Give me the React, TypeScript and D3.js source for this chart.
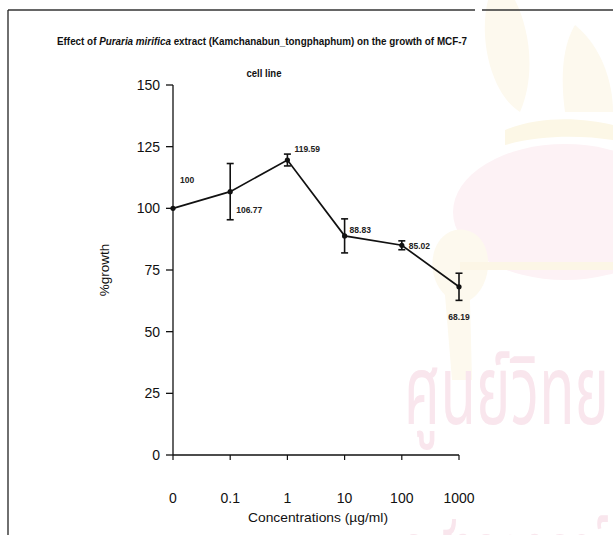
import React from "react";
import * as d3 from "d3";

// Concentrations tested (µg/ml) and mean % growth of MCF-7 cells
const concentrations = ["0", "0.1", "1", "10", "100", "1000"];
const growth = [100, 106.77, 119.59, 88.83, 85.02, 68.19];
const growthError = [0, 11.4, 2.4, 6.9, 1.8, 5.5];
const valueLabels = ["100", "106.77", "119.59", "88.83", "85.02", "68.19"];
const yTicks = [0, 25, 50, 75, 100, 125, 150];

// label placement relative to each point: [dx, dy, anchor]
const labelOffsets: [number, number, string][] = [
  [7, -28, "start"],
  [6, 18, "start"],
  [7, -11, "start"],
  [5, -6, "start"],
  [7, 1, "start"],
  [0, 30, "middle"],
];

const W = 613;
const H = 535;
const font = "'Liberation Sans', Arial, sans-serif";

export default function App() {
  const x = d3.scalePoint<string>().domain(concentrations).range([173, 459]);
  const y = d3.scaleLinear().domain([0, 150]).range([455, 85]);

  const pts = concentrations.map((c, i) => ({
    c,
    v: growth[i],
    e: growthError[i],
    label: valueLabels[i],
    px: x(c) as number,
    py: y(growth[i]),
  }));

  const line = d3
    .line<(typeof pts)[number]>()
    .x((d) => d.px)
    .y((d) => d.py);

  return (
    <svg
      width={W}
      height={H}
      viewBox={`0 0 ${W} ${H}`}
      style={{ position: "absolute", left: 0, top: 0, background: "#fff" }}
    >
      <rect x={0} y={0} width={W} height={H} fill="#fff" />

      {/* faint library seal in the background */}
      <g>
        <ellipse cx={565} cy={212} rx={112} ry={68} fill="#fdf2f5" />
        <path d="M488,0 C478,40 492,95 520,112 C536,75 530,30 515,0 Z" fill="#fdf9ee" />
        <path d="M575,25 C600,45 613,80 613,112 L565,112 C560,75 563,45 575,25 Z" fill="#fdf9ee" />
        <path d="M505,130 C540,115 585,118 613,125 L613,140 C580,135 540,135 505,145 Z" fill="#fcf7e6" />
        <path d="M445,295 C420,270 435,225 465,230 C495,235 495,285 470,300 L472,380 L452,380 Z" fill="#fdf9ee" />
        <path d="M460,262 L613,262 L613,270 L460,270 Z" fill="#fcf6e6" />
      </g>
      <g fill="#f9e6ed" fontFamily="'Noto Sans Thai', 'Noto Sans', 'DejaVu Sans', sans-serif" fontSize={96}>
        <text x={404} y={424} textLength={205} lengthAdjust="spacingAndGlyphs">ศูนย์วิทย</text>
        <text x={404} y={588} textLength={205} lengthAdjust="spacingAndGlyphs">จุฬาลงกรณ์</text>
      </g>

      {/* page frame */}
      <line x1={8} y1={10} x2={475} y2={10} stroke="#333" strokeWidth={1.3} />
      <line x1={482} y1={10} x2={613} y2={10} stroke="#333" strokeWidth={1.3} />
      <line x1={8} y1={10} x2={8} y2={535} stroke="#222" strokeWidth={1.3} />

      {/* title */}
      <text
        x={262}
        y={45}
        textAnchor="middle"
        fontFamily={font}
        fontWeight="bold"
        fontSize={11}
        textLength={410}
        lengthAdjust="spacingAndGlyphs"
        fill="#111"
      >
        Effect of <tspan fontStyle="italic">Puraria mirifica</tspan>{"  "}extract (Kamchanabun_tongphaphum) on the growth of MCF-7
      </text>
      <text
        x={264}
        y={77}
        textAnchor="middle"
        fontFamily={font}
        fontWeight="bold"
        fontSize={11}
        textLength={35}
        lengthAdjust="spacingAndGlyphs"
        fill="#111"
      >
        cell line
      </text>

      {/* y axis */}
      <line x1={173} y1={y(150)} x2={173} y2={y(0)} stroke="#111" strokeWidth={1.3} />
      {yTicks.map((t) => (
        <g key={t}>
          <line x1={166} y1={y(t)} x2={173} y2={y(t)} stroke="#111" strokeWidth={1.3} />
          <text
            x={160}
            y={y(t) + 5}
            textAnchor="end"
            fontFamily={font}
            fontSize={14}
            fill="#111"
          >
            {t}
          </text>
        </g>
      ))}
      <text
        transform={`translate(109,270) rotate(-90)`}
        textAnchor="middle"
        fontFamily={font}
        fontSize={13.5}
        fill="#111"
      >
        %growth
      </text>

      {/* x axis */}
      <line x1={x(concentrations[0])} y1={y(0)} x2={x(concentrations[concentrations.length - 1])} y2={y(0)} stroke="#111" strokeWidth={1.3} />
      {concentrations.map((c) => (
        <g key={c}>
          <line x1={x(c)} y1={y(0)} x2={x(c)} y2={y(0) + 5} stroke="#111" strokeWidth={1.2} />
          <text
            x={x(c)}
            y={503}
            textAnchor="middle"
            fontFamily={font}
            fontSize={14}
            fill="#111"
          >
            {c}
          </text>
        </g>
      ))}
      <text
        x={318}
        y={522}
        textAnchor="middle"
        fontFamily={font}
        fontSize={13.5}
        textLength={140}
        lengthAdjust="spacingAndGlyphs"
        fill="#111"
      >
        Concentrations (µg/ml)
      </text>

      {/* series line */}
      <path d={line(pts) ?? ""} fill="none" stroke="#111" strokeWidth={1.7} />

      {/* error bars */}
      {pts
        .filter((p) => p.e > 0)
        .map((p) => (
          <g key={`e${p.c}`} stroke="#111" strokeWidth={1.6}>
            <line x1={p.px} y1={y(p.v + p.e)} x2={p.px} y2={y(p.v - p.e)} />
            <line x1={p.px - 3.5} y1={y(p.v + p.e)} x2={p.px + 3.5} y2={y(p.v + p.e)} />
            <line x1={p.px - 3.5} y1={y(p.v - p.e)} x2={p.px + 3.5} y2={y(p.v - p.e)} />
          </g>
        ))}

      {/* markers */}
      {pts.map((p) => (
        <circle key={`m${p.c}`} cx={p.px} cy={p.py} r={2.6} fill="#111" />
      ))}

      {/* value labels */}
      {pts.map((p, i) => (
        <text
          key={`l${p.c}`}
          x={p.px + labelOffsets[i][0]}
          y={p.py + labelOffsets[i][1] + 3}
          textAnchor={labelOffsets[i][2]}
          fontFamily={font}
          fontWeight="bold"
          fontSize={8.5}
          fill="#222"
        >
          {p.label}
        </text>
      ))}
    </svg>
  );
}
